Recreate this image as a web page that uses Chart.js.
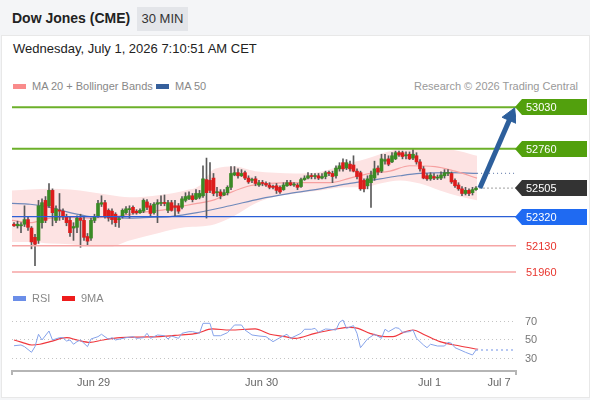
<!DOCTYPE html>
<html>
<head>
<meta charset="utf-8">
<script src="https://cdn.jsdelivr.net/npm/chart.js@4.4.1/dist/chart.umd.min.js"></script>
<style>
  html, body { margin: 0; padding: 0; }
  body { width: 590px; height: 400px; background: #f4f5f7; position: relative; overflow: hidden;
         font-family: "Liberation Sans", Arial, sans-serif; }
  .title { position: absolute; left: 12px; top: 10px; font-size: 14px; font-weight: bold; color: #222; }
  .badge { position: absolute; left: 137px; top: 7px; width: 51px; height: 24px; line-height: 24px;
           text-align: center; background: #e3e5e9; font-size: 13px; color: #333; }
  .panel { position: absolute; left: 1px; top: 35px; width: 587px; height: 361px; background: #fff;
           border: 1px solid #e8e8e8; }
  .date { position: absolute; left: 13px; top: 41px; font-size: 13px; color: #222; }
  .legend { position: absolute; font-size: 11px; color: #888; white-space: nowrap; }
  .sw { display: inline-block; width: 13px; height: 5px; vertical-align: middle; margin-right: 6px; position: relative; top: -1px; }
  canvas { position: absolute; left: 0; }
</style>
</head>
<body>
<div class="title">Dow Jones (CME)</div>
<div class="badge">30 MIN</div>
<div class="panel"></div>
<div class="date">Wednesday, July 1, 2026 7:10:51 AM CET</div>
<div class="legend" style="left:13px; top:80px;"><span class="sw" style="background:#f98b8b"></span>MA 20 + Bollinger Bands</div>
<div class="legend" style="left:156px; top:80px;"><span class="sw" style="background:#36609c"></span>MA 50</div>
<div class="legend" style="right:12px; top:80px; color:#999;">Research © 2026 Trading Central</div>
<canvas id="main" width="590" height="188" style="top:95px"></canvas>
<canvas id="rsi" width="590" height="100" style="top:300px"></canvas>
<div class="legend" style="left:13px; top:292px;"><span class="sw" style="background:#6b8ee8"></span>RSI</div>
<div class="legend" style="left:62px; top:292px;"><span class="sw" style="background:#ee1c1c"></span>9MA</div>
<script>
// 30 min candles, index 0 = first bar on screen
const candleOpen = [52270,52260,52260,52270,52300,52245,52185,52165,52280,52425,
  52390,52490,52295,52360,52355,52320,52295,52245,52250,52310,
  52295,52190,52180,52295,52325,52400,52410,52360,52355,52335,
  52300,52320,52345,52365,52380,52355,52345,52355,52415,52390,
  52345,52400,52405,52410,52360,52410,52390,52390,52380,52425,
  52435,52455,52435,52445,52455,52560,52555,52570,52475,52480,
  52460,52475,52510,52590,52605,52585,52605,52570,52555,52565,
  52525,52540,52535,52525,52515,52520,52510,52495,52520,52540,
  52525,52525,52515,52560,52570,52585,52580,52585,52570,52580,
  52605,52600,52585,52630,52670,52635,52660,52655,52615,52605,
  52555,52520,52540,52570,52635,52615,52680,52695,52675,52695,
  52735,52735,52715,52725,52700,52715,52675,52630,52585,52565,
  52580,52570,52570,52585,52600,52600,52555,52525,52500,52470,
  52490,52475,52495];
const candleClose = [52260,52270,52265,52300,52250,52155,52140,52390,52410,52295,
  52490,52345,52370,52355,52320,52280,52215,52255,52310,52295,
  52185,52160,52295,52315,52405,52410,52320,52310,52300,52280,
  52305,52360,52370,52370,52345,52345,52360,52425,52380,52340,
  52400,52410,52410,52405,52410,52360,52380,52355,52435,52450,
  52455,52430,52470,52470,52565,52475,52490,52470,52480,52455,
  52475,52510,52600,52605,52585,52600,52570,52545,52560,52535,
  52540,52535,52525,52510,52510,52490,52480,52525,52540,52525,
  52530,52510,52560,52570,52585,52580,52585,52570,52580,52605,
  52600,52580,52635,52650,52630,52670,52630,52615,52580,52500,
  52500,52565,52590,52630,52610,52695,52690,52660,52715,52735,
  52720,52710,52720,52695,52725,52675,52630,52570,52565,52590,
  52570,52575,52590,52605,52605,52545,52520,52500,52470,52490,
  52470,52495,52505];
const candleHigh = [52280,52290,52280,52390,52320,52255,52205,52425,52435,52450,
  52535,52500,52390,52470,52370,52335,52320,52280,52325,52335,
  52315,52210,52310,52335,52425,52455,52425,52370,52370,52345,
  52320,52370,52385,52390,52390,52365,52370,52435,52430,52405,
  52410,52430,52455,52460,52425,52425,52425,52405,52450,52475,
  52480,52470,52495,52490,52650,52700,52670,52600,52510,52495,
  52495,52520,52645,52645,52630,52625,52615,52585,52570,52580,
  52555,52555,52545,52540,52525,52535,52520,52540,52555,52555,
  52540,52535,52570,52585,52605,52600,52600,52600,52600,52615,
  52615,52615,52650,52670,52695,52690,52680,52715,52630,52615,
  52565,52585,52615,52680,52650,52725,52725,52715,52735,52745,
  52745,52745,52740,52740,52755,52735,52690,52645,52600,52605,
  52600,52590,52610,52625,52625,52610,52565,52540,52515,52510,
  52500,52510,52515];
const candleLow = [52255,52245,52215,52255,52230,52110,52000,52145,52245,52280,
  52380,52260,52280,52295,52300,52260,52190,52165,52215,52120,
  52165,52135,52165,52280,52315,52385,52310,52290,52270,52255,
  52250,52310,52335,52310,52335,52335,52340,52345,52365,52325,
  52335,52280,52390,52390,52345,52355,52325,52340,52370,52415,
  52430,52415,52430,52435,52445,52310,52475,52455,52450,52435,
  52455,52460,52495,52585,52570,52580,52560,52535,52540,52520,
  52515,52520,52515,52500,52500,52470,52470,52490,52515,52520,
  52515,52495,52510,52555,52565,52565,52565,52560,52565,52565,
  52585,52540,52570,52615,52615,52625,52615,52610,52565,52490,
  52480,52500,52380,52555,52590,52605,52660,52650,52670,52690,
  52710,52695,52695,52690,52690,52660,52615,52565,52555,52555,
  52560,52560,52560,52570,52585,52535,52510,52490,52455,52460,
  52455,52460,52490];

// Bollinger bands (20) read at these bar positions
const bandIdx = [-0.6,4.6,10.3,16,21.7,27.4,33,41.7,48.9,53,57.4,63,68.9,74.6,80.3,87.4,94.6,100,104.6,110.3,116,121.7,127.4,132.3];
const bandUpper = [52490,52495,52500,52495,52480,52460,52445,52460,52490,52520,52630,52645,52615,52605,52600,52610,52660,52690,52725,52760,52765,52760,52745,52715];
const bandLower = [52155,52155,52145,52140,52125,52125,52165,52215,52250,52255,52270,52325,52405,52450,52470,52490,52510,52510,52535,52555,52535,52490,52450,52425];

const ma20Idx = [-0.6,4.6,10.3,16,21.7,30.3,36,41.7,47.4,52.3,57.4,61.7,67.4,73.1,81.7,90.3,96,101.7,107.4,113.1,120.3,126,132.3];
const ma20 = [52295,52280,52310,52315,52310,52325,52345,52360,52385,52405,52430,52475,52520,52535,52540,52540,52570,52600,52615,52650,52645,52615,52570];

const ma50Idx = [-0.6,4.6,10.3,16,21.7,27.4,33.1,38.9,44.6,52.3,61.7,70.3,78.9,87.4,96,104.6,110.3,116,124.6,132.3];
const ma50 = [52405,52400,52380,52345,52320,52315,52310,52315,52320,52345,52390,52435,52470,52500,52535,52565,52585,52600,52605,52600];

const levels = [53030, 52760, 52505, 52320, 52130, 51960];
const lastPrice = 52505;
const targetPrice = 52972;

const rsiIdx = [0,2,3,5,6,7,8,10,11,13,14,15,16,17,18,19,21,22,24,25,27,28,29,32,34,35,37,38,39,41,
  43,44,45,47,48,50,51,53,54,56,57,59,61,63,65,66,68,70,72,74,76,78,79,82,83,85,86,87,89,90,
  92,93,94,95,97,98,99,101,103,105,106,107,109,110,111,113,114,115,117,118,119,121,123,124,125,126,128,129,131,132];
const rsiVal = [43.8,44.6,42.8,36.7,42.8,56.2,50,59.7,50,52.5,52.5,48.9,50,45.4,48.2,50,42.8,51.1,53.6,56.2,50.8,52.5,50,52.5,53.6,51.8,52.5,57.2,51.8,55.4,
  54.6,51.1,54.3,51.8,57.2,59,59,57.2,68,68,54.6,54.6,57.9,66.2,66.2,60.8,55.4,54.3,53.6,48.2,52.5,56.2,51.8,57.2,61.6,61.6,62.6,58.3,61.9,61.6,
  60.8,69.1,71.6,62.6,65.5,57.2,41.7,51.1,56.2,51.8,61.6,59,63.3,62.6,58.3,59,60.8,51.8,44.6,41.7,45.4,43.5,43.5,47.5,46.4,41.7,38.4,36.7,33.8,39.2];

const rsiMaIdx = [0,2.3,5.1,7.4,10.3,15.1,18,21.7,25.4,30.3,36,41.7,47.4,52.3,56.6,61.7,68.9,73.1,77.4,80.3,86,91.7,96,98.3,101.7,106,108.3,111.1,114,117.4,121.7,127.4,132.6];
const rsiMa = [50,47.5,44.6,45.4,48.2,52.5,50,47.5,50,52.5,53.2,53.6,55.4,57.2,61.9,60.8,61.9,56.2,53.6,51.8,57.2,61.6,63.7,62.6,57.2,53.6,53.6,57.9,60.8,55.4,48.2,43.5,39.9];

const rsiTicks = [70, 50, 30];
const dayTickPos = [22.75, 70.75, 118.75, 138.6];
const dayTickText = ['Jun 29', 'Jun 30', 'Jul 1', 'Jul 7'];

// layout
const xMin = -0.571, xMax = 143.43;
const FONT = '"Liberation Sans", Arial, sans-serif';

const pts = (xs, ys) => xs.map((x, i) => ({ x: x, y: ys[i] }));
const span = (v, from) => [{ x: from, y: v }, { x: xMax, y: v }];
const idx = candleOpen.map((_, i) => i);
const lastIdx = idx.length - 1;

const levelLine = ['#6cb02a', '#6cb02a', null, '#2b5fd6', '#f6a5a5', '#f6a5a5'];
const levelWidth = [2, 2, 1, 1.2, 1.5, 1.5];
const tagBox = ['#52a00d', '#52a00d', '#333333', '#1f6af2', null, null];
const tagText = ['#fff', '#fff', '#fff', '#fff', '#e8352e', '#e8352e'];

const levelSets = [];
levels.forEach((v, k) => {
  if (!levelLine[k]) return;
  levelSets.push({ type: 'line', data: span(v, xMin), borderColor: levelLine[k], borderWidth: levelWidth[k],
    pointRadius: 0, order: 3 });
});

const levelTags = {
  id: 'levelTags',
  afterDatasetsDraw(chart) {
    const ctx = chart.ctx, y = chart.scales.y, r = chart.chartArea.right;
    ctx.save();
    ctx.font = '11px ' + FONT;
    ctx.textBaseline = 'middle';
    levels.forEach((v, k) => {
      const py = Math.round(y.getPixelForValue(v));
      if (tagBox[k]) {
        ctx.fillStyle = tagBox[k];
        ctx.beginPath();
        ctx.moveTo(r - 1, py);
        ctx.lineTo(r + 6, py - 8);
        ctx.lineTo(587, py - 8);
        ctx.lineTo(587, py + 8);
        ctx.lineTo(r + 6, py + 8);
        ctx.closePath();
        ctx.fill();
      }
      ctx.fillStyle = tagText[k];
      ctx.fillText(String(v), r + 10, py + 0.5);
    });
    ctx.restore();
  }
};

new Chart(document.getElementById('main'), {
  type: 'bar',
  data: {
    datasets: [
      { type: 'line', data: pts(bandIdx, bandUpper), borderColor: 'rgba(0,0,0,0)', borderWidth: 1,
        pointRadius: 0, fill: '+1', backgroundColor: '#fde3e3', cubicInterpolationMode: 'monotone', order: 9 },
      { type: 'line', data: pts(bandIdx, bandLower), borderColor: 'rgba(0,0,0,0)', borderWidth: 1,
        pointRadius: 0, fill: false, cubicInterpolationMode: 'monotone', order: 9 },
      { type: 'line', data: pts(ma20Idx, ma20), borderColor: '#f6a0a0', borderWidth: 1.2,
        pointRadius: 0, cubicInterpolationMode: 'monotone', order: 8 },
      { type: 'line', data: pts(ma50Idx, ma50), borderColor: '#6f89bb', borderWidth: 1.2,
        pointRadius: 0, cubicInterpolationMode: 'monotone', order: 8 },
      { type: 'line', data: span(ma50[ma50.length - 1], ma50Idx[ma50Idx.length - 1]), borderColor: '#7a8fb8',
        borderWidth: 1.2, borderDash: [1, 3], pointRadius: 0, order: 8 },
      { data: idx.map(i => ({ x: i, y: [candleLow[i], candleHigh[i]] })), backgroundColor: '#5a5a5a',
        barThickness: 1, grouped: false, order: 5 },
      { data: idx.map(i => ({ x: i, y: [candleOpen[i], candleClose[i]] })),
        backgroundColor: c => candleClose[c.dataIndex] >= candleOpen[c.dataIndex] ? '#3a8a25' : '#dc1c1c',
        barThickness: 3, grouped: false, minBarLength: 1, order: 4 },
      ...levelSets,
      { type: 'line', data: span(lastPrice, lastIdx + 1), borderColor: '#666', borderWidth: 1.2,
        borderDash: [1, 3], pointRadius: 0, order: 3 },
      { type: 'line', data: [{ x: lastIdx + 1.1, y: lastPrice }, { x: 142.0, y: targetPrice }],
        borderColor: '#2d5f9c', borderWidth: 5, pointRadius: [0, 9], pointStyle: 'triangle', rotation: 23.3,
        pointBackgroundColor: '#2d5f9c', pointBorderColor: '#2d5f9c', pointBorderWidth: 1, order: 1 }
    ]
  },
  options: {
    responsive: false, animation: false, events: [],
    layout: { autoPadding: false, padding: { left: 12, right: 74, top: 0, bottom: 0 } },
    plugins: { legend: { display: false }, tooltip: { enabled: false } },
    scales: {
      x: { type: 'linear', display: false, min: xMin, max: xMax, offset: false },
      y: { display: false, min: 51888, max: 53110 }
    }
  },
  plugins: [levelTags]
});

const xTickPos = [xMin, ...dayTickPos, xMax];
const xTickText = ['', ...dayTickText, ''];

new Chart(document.getElementById('rsi'), {
  type: 'line',
  data: {
    datasets: [
      { data: pts(rsiIdx, rsiVal), borderColor: '#86a3ea', borderWidth: 1, pointRadius: 0 },
      { data: span(rsiVal[rsiVal.length - 1], rsiIdx[rsiIdx.length - 1]), borderColor: '#9fb5ee',
        borderWidth: 1.3, borderDash: [2, 3], pointRadius: 0 },
      { data: pts(rsiMaIdx, rsiMa), borderColor: '#f0383e', borderWidth: 1.2, pointRadius: 0,
        cubicInterpolationMode: 'monotone' }
    ]
  },
  options: {
    responsive: false, animation: false, events: [],
    layout: { autoPadding: false, padding: { left: 12, right: 0, top: 0, bottom: 0 } },
    plugins: { legend: { display: false }, tooltip: { enabled: false } },
    scales: {
      x: {
        type: 'linear', min: xMin, max: xMax,
        afterBuildTicks: s => { s.ticks = xTickPos.map(v => ({ value: v })); },
        afterFit: s => { s.height = 29; s.paddingLeft = 0; s.paddingRight = 0; },
        ticks: { autoSkip: false, maxRotation: 0, padding: 1, color: '#666', font: { size: 11, family: FONT },
          callback: (v, i) => xTickText[i] },
        grid: { drawOnChartArea: false, drawTicks: true, tickLength: 4, lineWidth: 2,
          color: c => (c.index === 0 || c.index === xTickPos.length - 1) ? '#b5b5b5' : 'rgba(0,0,0,0)' },
        border: { color: '#b5b5b5', width: 2 }
      },
      y: {
        position: 'right', min: 16.5, max: 93.2,
        afterBuildTicks: s => { s.ticks = rsiTicks.map(v => ({ value: v })); },
        afterFit: s => { s.width = 74; s.paddingTop = 0; s.paddingBottom = 0; },
        ticks: { padding: 9, color: '#777', font: { size: 11, family: FONT } },
        grid: { color: '#c4c4c4', drawTicks: false, lineWidth: 1 },
        border: { display: false, dash: [1, 3] }
      }
    }
  }
});
</script>
</body>
</html>
